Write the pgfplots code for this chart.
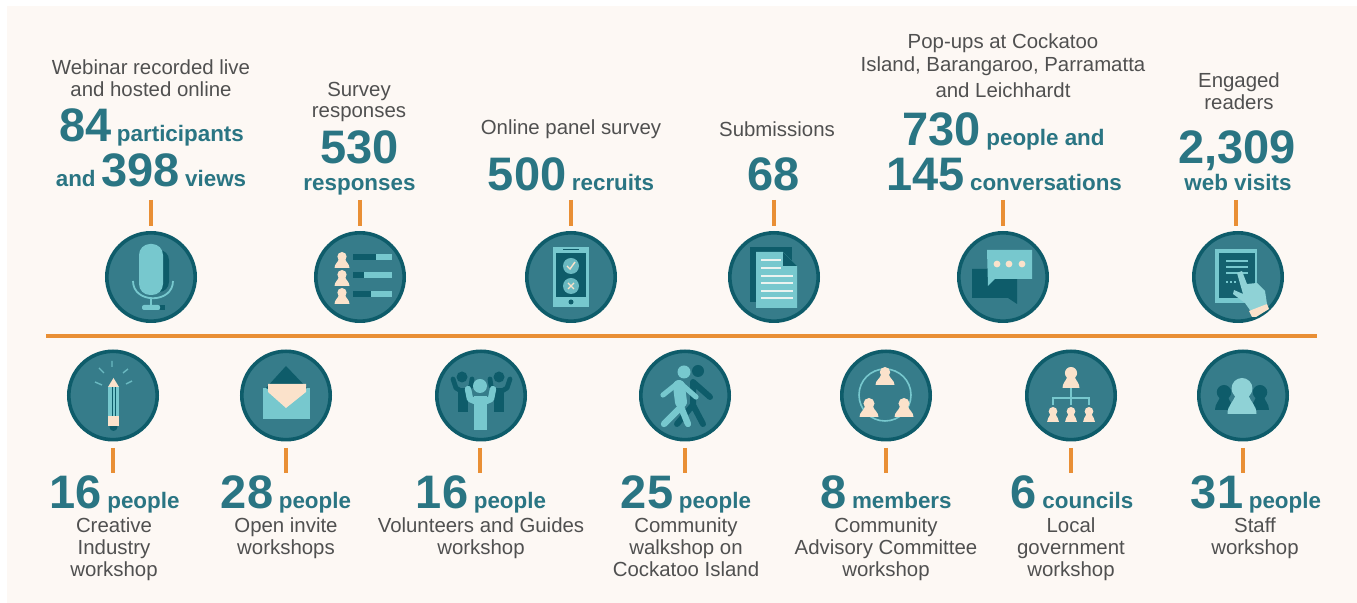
\documentclass[border=0pt]{standalone}
\usepackage{pgfplots}
\pgfplotsset{compat=1.18}
\usepackage{fontspec}
\setmainfont{Liberation Sans}

\definecolor{bgcream}{HTML}{FDF8F4}
\definecolor{orangeline}{HTML}{E98F35}
\definecolor{tealmid}{HTML}{367C8A}
\definecolor{tealdark}{HTML}{0E5C6A}
\definecolor{teallight}{HTML}{77C8CE}
\definecolor{tealpale}{HTML}{8FD2D6}
\definecolor{skin}{HTML}{FBE2CB}
\definecolor{numteal}{HTML}{2A7583}
\definecolor{greytext}{HTML}{505050}

% 1 unit = 1 pixel of the reference, y runs downwards
\pgfplotsset{pix/.style={
  scale only axis, width=678.5pt, height=301.5pt,
  xmin=0, xmax=1357, ymin=0, ymax=603,
  y dir=reverse, hide axis, clip=false}}
\newcommand\num[1]{{\fontsize{23.5}{23.5}\selectfont\bfseries #1}}
\newcommand\wrd[1]{{\fontsize{11.2}{12}\selectfont\bfseries #1}}
\newcommand\lab[3]{\node[anchor=base,text=greytext,font=\fontsize{10.2}{11}\selectfont,inner sep=0pt] at (axis cs:#1,#2) {#3};}
\newcommand\fig[3]{\node[anchor=base,text=numteal,inner sep=0pt,yshift=-0.7pt] at (axis cs:#1,#2) {#3};}
% person: centre x, top y, width, height, colour
\newcommand\person[5]{%
  \fill[#5] (axis cs:#1,{#2+#4*0.29}) circle[radius={#4*0.29}];
  \fill[#5] (axis cs:{#1-#3/2},{#2+#4}) .. controls (axis cs:{#1-#3/2},{#2+#4*0.74}) and (axis cs:{#1-#3*0.28},{#2+#4*0.68}) .. (axis cs:{#1-#3*0.2},{#2+#4*0.42})
    -- (axis cs:{#1+#3*0.2},{#2+#4*0.42}) .. controls (axis cs:{#1+#3*0.28},{#2+#4*0.68}) and (axis cs:{#1+#3/2},{#2+#4*0.74}) .. (axis cs:{#1+#3/2},{#2+#4}) -- cycle;}
\newcommand\rect[5]{\fill[#5] (axis cs:#1,#2) rectangle (axis cs:#3,#4);}

\begin{document}
\begin{tikzpicture}
\begin{axis}[pix]
\rect{0}{0}{1357}{603}{white}
\rect{7}{6}{1357}{603}{bgcream}

% timeline and stems
\addplot[orangeline, line width=2pt] coordinates {(46,336) (1317,336)};
\addplot[orangeline, line width=1.6pt] coordinates {(151,200) (151,226)};
\addplot[orangeline, line width=1.6pt] coordinates {(360,200) (360,226)};
\addplot[orangeline, line width=1.6pt] coordinates {(571,200) (571,226)};
\addplot[orangeline, line width=1.6pt] coordinates {(774,200) (774,226)};
\addplot[orangeline, line width=1.6pt] coordinates {(1003,200) (1003,226)};
\addplot[orangeline, line width=1.6pt] coordinates {(1236,200) (1236,226)};
\addplot[orangeline, line width=1.6pt] coordinates {(113,448) (113,473)};
\addplot[orangeline, line width=1.6pt] coordinates {(286,448) (286,473)};
\addplot[orangeline, line width=1.6pt] coordinates {(480,448) (480,473)};
\addplot[orangeline, line width=1.6pt] coordinates {(685,448) (685,473)};
\addplot[orangeline, line width=1.6pt] coordinates {(886,448) (886,473)};
\addplot[orangeline, line width=1.6pt] coordinates {(1071,448) (1071,473)};
\addplot[orangeline, line width=1.6pt] coordinates {(1243,448) (1243,473)};

% icon discs
\addplot[only marks, mark=*, mark size=22.1pt,
  mark options={fill=tealmid, draw=tealdark, line width=1.8pt}] coordinates {
  (151,277) (360,277) (571,277) (774,277) (1003,277) (1238,277)
  (113,395.5) (286,395.5) (481,395.5) (685,395.5) (886,395.5) (1071,395.5) (1243,395.5)};
\end{axis}

% second axis on top: icons and captions
\begin{axis}[pix]
% microphone
\fill[tealdark, rounded corners=5pt] (axis cs:150,250) rectangle (axis cs:169,292);
\fill[tealdark] (axis cs:160,305) rectangle (axis cs:165,310);
\draw[teallight, line width=0.9pt] (axis cs:133,281) .. controls (axis cs:133,304) and (axis cs:173,304) .. (axis cs:173,281);
\draw[teallight, line width=1pt] (axis cs:151,298) -- (axis cs:151,306);
\fill[teallight, rounded corners=5.5pt] (axis cs:139,244) rectangle (axis cs:163,295);
\fill[teallight, rounded corners=1pt] (axis cs:142,305) rectangle (axis cs:160,310);

% survey
\person{342}{252}{15}{16}{skin}
\person{342}{270}{15}{16}{skin}
\person{342}{288}{15}{16}{skin}
\rect{353}{254}{392}{260}{teallight}\rect{353}{254}{376}{260}{tealdark}
\rect{353}{272}{392}{278}{teallight}\rect{353}{272}{364}{278}{tealdark}
\rect{353}{291}{392}{297}{teallight}\rect{353}{291}{371}{297}{tealdark}

% phone
\rect{553}{247}{589}{307}{teallight}
\rect{556}{253}{586}{297}{tealdark}
\fill[tealdark] (axis cs:571,302) circle[radius=2.5];
\draw[tealdark, line width=0.5pt] (axis cs:563,250) -- (axis cs:579,250);
\fill[teallight!80!tealmid] (axis cs:571,266) circle[radius=8];
\fill[teallight!80!tealmid] (axis cs:571,286) circle[radius=8];
\draw[skin, line width=0.7pt] (axis cs:567,266) -- (axis cs:570,269) -- (axis cs:575,262);
\draw[skin, line width=0.7pt] (axis cs:568,283) -- (axis cs:574,289) (axis cs:574,283) -- (axis cs:568,289);

% document
\rect{750}{247}{792}{302}{tealdark}
\fill[teallight] (axis cs:756,252) -- (axis cs:783,252) -- (axis cs:797,266) -- (axis cs:797,308) -- (axis cs:756,308) -- cycle;
\fill[tealdark] (axis cs:783,252) -- (axis cs:783,266) -- (axis cs:797,266) -- cycle;
\draw[skin!50!teallight!30!white, line width=0.6pt] (axis cs:761,260) -- (axis cs:781,260) (axis cs:761,268) -- (axis cs:781,268)
  (axis cs:761,276) -- (axis cs:793,276) (axis cs:761,283) -- (axis cs:793,283) (axis cs:761,291) -- (axis cs:793,291) (axis cs:761,298) -- (axis cs:793,298);

% chat bubbles
\fill[tealdark] (axis cs:972,269) -- (axis cs:1017,269) -- (axis cs:1017,304) -- (axis cs:1008,298) -- (axis cs:972,298) -- cycle;
\fill[teallight] (axis cs:987,250) -- (axis cs:1032,250) -- (axis cs:1032,279) -- (axis cs:995,279) -- (axis cs:988,286) -- cycle;
\fill[skin] (axis cs:997,264) circle[radius=3.4];
\fill[skin] (axis cs:1009,264) circle[radius=3.4];
\fill[skin] (axis cs:1022,264) circle[radius=3.4];

% tablet
\rect{1215}{249}{1257}{303}{teallight}
\rect{1219}{253}{1255}{298}{tealdark!85!tealmid}
\draw[teallight, line width=0.7pt] (axis cs:1226,261) -- (axis cs:1248,261) (axis cs:1226,267) -- (axis cs:1248,267) (axis cs:1226,273) -- (axis cs:1248,273);
\draw[teallight, line width=0.6pt, dash pattern=on 1pt off 1pt] (axis cs:1226,282) -- (axis cs:1238,282);
\fill[tealpale] (axis cs:1237,273) -- (axis cs:1242,271) -- (axis cs:1247,284) -- (axis cs:1257,283) -- (axis cs:1265,291) -- (axis cs:1267,304) -- (axis cs:1252,313) -- (axis cs:1245,303) -- (axis cs:1233,294) -- (axis cs:1234,290) -- (axis cs:1243,294) -- cycle;
\fill[skin] (axis cs:1249,311) -- (axis cs:1267,304) -- (axis cs:1269,309) -- (axis cs:1256,317) -- (axis cs:1252,317) -- cycle;

% pencil
\fill[skin] (axis cs:113.5,378) -- (axis cs:119,387) -- (axis cs:108,387) -- cycle;
\fill[tealdark] (axis cs:113.5,427) circle[radius=4];
\rect{108}{387}{119}{416}{teallight}
\rect{108}{416}{119}{426}{skin}
\draw[tealdark, line width=0.4pt] (axis cs:112,387) -- (axis cs:112,416) (axis cs:115.5,387) -- (axis cs:115.5,416);
\draw[teallight!80!tealmid, line width=0.7pt] (axis cs:112,361) -- (axis cs:112,367) (axis cs:99,368) -- (axis cs:104,373)
  (axis cs:128,369) -- (axis cs:123,373) (axis cs:95,382) -- (axis cs:102,385) (axis cs:132,381) -- (axis cs:126,384);

% envelope
\rect{263}{388}{310}{419}{teallight}
\fill[tealdark] (axis cs:266,388) -- (axis cs:286,366) -- (axis cs:307,388) -- (axis cs:286,400) -- cycle;
\fill[skin] (axis cs:268,384) -- (axis cs:306,384) -- (axis cs:306,392) -- (axis cs:286,408) -- (axis cs:268,392) -- cycle;

% volunteers
\fill[tealdark] (axis cs:462,377) circle[radius=5.5];
\fill[tealdark] (axis cs:499,377) circle[radius=5.5];
\rect{458}{388}{468}{412}{tealdark}
\rect{494}{388}{504}{412}{tealdark}
\draw[tealdark, line width=2.4pt, line cap=round, line join=round] (axis cs:453,379) -- (axis cs:456,388) -- (axis cs:461,391) (axis cs:472,379) -- (axis cs:471,386) -- (axis cs:466,391)
  (axis cs:490,379) -- (axis cs:491,386) -- (axis cs:496,391) (axis cs:510,379) -- (axis cs:507,388) -- (axis cs:502,391);
\fill[teallight] (axis cs:480,386) circle[radius=7];
\rect{474}{396}{487}{430}{teallight}
\draw[teallight, line width=3.2pt, line cap=round, line join=round] (axis cs:468,389) -- (axis cs:470,399) -- (axis cs:477,402) -- (axis cs:484,402) -- (axis cs:491,399) -- (axis cs:493,389);

% walkers
\fill[tealdark] (axis cs:698,371) circle[radius=6];
\draw[tealdark, line width=3pt, line cap=round, line join=round] (axis cs:693,382) -- (axis cs:693,405) -- (axis cs:703,424) (axis cs:693,405) -- (axis cs:677,424) (axis cs:693,382) -- (axis cs:710,397);
\fill[teallight] (axis cs:684,372) circle[radius=6.5];
\draw[teallight, line width=6pt, line cap=round, line join=round] (axis cs:679,386) -- (axis cs:681,402);
\draw[teallight, line width=3.2pt, line cap=round, line join=round] (axis cs:681,407) -- (axis cs:664,424) (axis cs:681,407) -- (axis cs:688,424);
\draw[teallight, line width=2.6pt, line cap=round, line join=round] (axis cs:678,383) -- (axis cs:663,395) (axis cs:680,383) -- (axis cs:696,397);

% committee
\draw[teallight, line width=0.8pt] (axis cs:885,395) circle[radius=26];
\person{885}{367}{19}{18}{skin}
\person{869}{398}{19}{19}{skin}
\person{904}{398}{19}{19}{skin}

% councils
\draw[teallight, line width=0.8pt] (axis cs:1071,388) -- (axis cs:1071,405) (axis cs:1053,405) -- (axis cs:1053,398) -- (axis cs:1089,398) -- (axis cs:1089,405);
\person{1071}{367}{17}{21}{skin}
\person{1053}{407}{12}{15}{skin}
\person{1071}{407}{12}{15}{skin}
\person{1089}{407}{12}{15}{skin}

% staff
\person{1224}{385}{18}{25}{tealdark}
\person{1260}{385}{18}{25}{tealdark}
\person{1242}{378}{29}{36}{tealpale}

% top captions
\lab{151}{75}{Webinar recorded live}
\lab{151}{97}{and hosted online}
\fig{151.5}{140}{\num{84} \wrd{participants}}
\fig{151}{185}{\wrd{and} \num{398} \wrd{views}}
\lab{359}{97}{Survey}
\lab{359}{118}{responses}
\fig{359.5}{162}{\num{530}}
\fig{359.5}{189}{\wrd{responses}}
\lab{571}{135}{Online panel survey}
\fig{571}{189}{\num{500} \wrd{recruits}}
\lab{777}{137}{Submissions}
\fig{774}{189}{\num{68}}
\lab{1003}{49}{Pop-ups at Cockatoo}
\lab{1003}{72}{Island, Barangaroo, Parramatta}
\lab{1003}{98}{and Leichhardt}
\fig{1003.5}{144}{\num{730} \wrd{people and}}
\fig{1004}{189}{\num{145} \wrd{conversations}}
\lab{1239}{88}{Engaged}
\lab{1239}{110}{readers}
\fig{1237}{162}{\num{2,309}}
\fig{1238}{189}{\wrd{web visits}}

% bottom captions
\fig{114.5}{507}{\num{16} \wrd{people}}
\lab{114}{533}{Creative}
\lab{114}{555}{Industry}
\lab{114}{577}{workshop}
\fig{286}{507}{\num{28} \wrd{people}}
\lab{286}{533}{Open invite}
\lab{286}{555}{workshops}
\fig{481}{507}{\num{16} \wrd{people}}
\lab{481}{533}{Volunteers and Guides}
\lab{481}{555}{workshop}
\fig{686}{507}{\num{25} \wrd{people}}
\lab{686}{533}{Community}
\lab{686}{555}{walkshop on}
\lab{686}{577}{Cockatoo Island}
\fig{886}{507}{\num{8} \wrd{members}}
\lab{886}{533}{Community}
\lab{886}{555}{Advisory Committee}
\lab{886}{577}{workshop}
\fig{1072}{507}{\num{6} \wrd{councils}}
\lab{1071}{533}{Local}
\lab{1071}{555}{government}
\lab{1071}{577}{workshop}
\fig{1256}{507}{\num{31} \wrd{people}}
\lab{1255}{533}{Staff}
\lab{1255}{555}{workshop}
\end{axis}
\end{tikzpicture}
\end{document}
